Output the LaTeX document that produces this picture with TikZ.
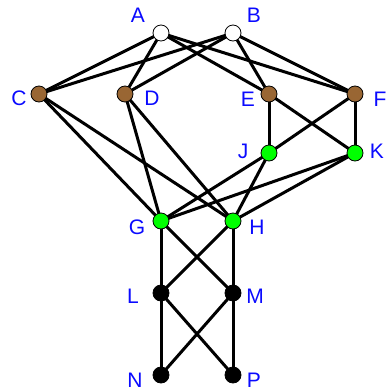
\documentclass[tikz,border=0pt]{standalone}
\usepackage{fontspec}
\setmainfont{Liberation Sans}
\definecolor{brownv}{RGB}{153,102,51}
\definecolor{greenv}{RGB}{0,255,0}
\definecolor{bluev}{RGB}{10,10,255}
\begin{document}
\begin{tikzpicture}[x=1pt,y=-1pt,
  vtx/.style={circle,draw=black,line width=0.8pt,minimum size=16pt,inner sep=0pt},
  wv/.style={vtx,fill=white},
  bv/.style={vtx,fill=brownv},
  gv/.style={vtx,fill=greenv},
  kv/.style={vtx,fill=black},
  lab/.style={text=bluev,font=\fontsize{21}{21}\selectfont,inner sep=0pt,anchor=center},
  edge/.style={line width=3pt}]
\useasboundingbox (0,0) rectangle (389,392);
\coordinate (A) at (161,33);
\coordinate (B) at (233,33);
\coordinate (C) at (39,94);
\coordinate (D) at (125,94);
\coordinate (E) at (269,94);
\coordinate (F) at (355,94);
\coordinate (J) at (269,153);
\coordinate (K) at (355,153);
\coordinate (G) at (161,221);
\coordinate (H) at (233,221);
\coordinate (L) at (161,293);
\coordinate (M) at (233,293);
\coordinate (N) at (161,375);
\coordinate (P) at (233,375);
\foreach \u/\v in {A/C,A/D,A/E,A/F,B/C,B/D,B/E,B/F,C/G,C/H,D/G,D/H,E/J,E/K,F/J,F/K,J/G,J/H,K/G,K/H,G/L,G/M,H/L,H/M,L/N,L/P,M/N,M/P}
  \draw[edge] (\u) -- (\v);
\node[wv] (vA) at (A) {};
\node[wv] (vB) at (B) {};
\node[bv] (vC) at (C) {};
\node[bv] (vD) at (D) {};
\node[bv] (vE) at (E) {};
\node[bv] (vF) at (F) {};
\node[gv] (vJ) at (J) {};
\node[gv] (vK) at (K) {};
\node[gv] (vG) at (G) {};
\node[gv] (vH) at (H) {};
\node[kv] (vL) at (L) {};
\node[kv] (vM) at (M) {};
\node[kv] (vN) at (N) {};
\node[kv] (vP) at (P) {};
\node[lab] (lA) at (138,15) {A};
\node[lab] (lB) at (254,15) {B};
\node[lab] (lC) at (19,98) {C};
\node[lab] (lD) at (152,98) {D};
\node[lab] (lE) at (248,99) {E};
\node[lab] (lF) at (380,99) {F};
\node[lab] (lJ) at (243,151) {J};
\node[lab] (lK) at (377,151) {K};
\node[lab] (lG) at (137,227) {G};
\node[lab] (lH) at (257,227) {H};
\node[lab] (lL) at (133,296) {L};
\node[lab] (lM) at (255,296) {M};
\node[lab] (lN) at (135,380) {N};
\node[lab] (lP) at (254,380) {P};
\end{tikzpicture}
\end{document}
